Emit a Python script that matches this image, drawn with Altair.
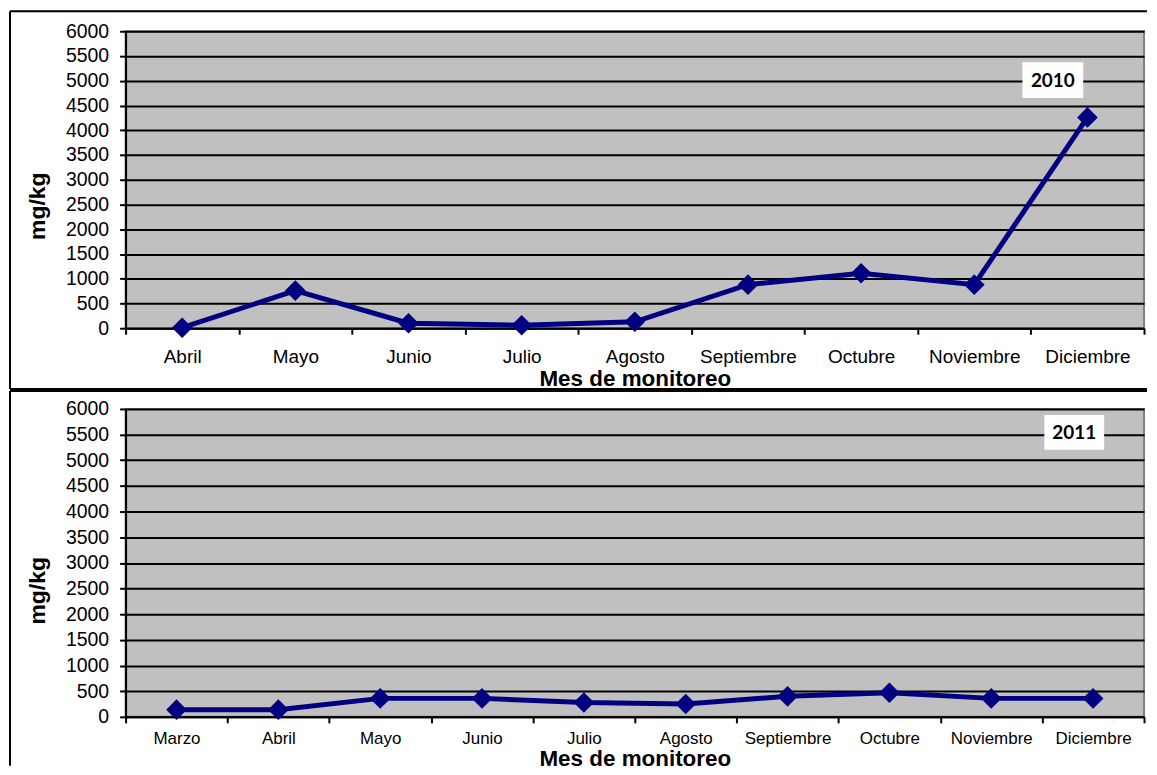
import altair as alt
import pandas as pd

# ---- data ----
months_2010 = ["Abril", "Mayo", "Junio", "Julio", "Agosto", "Septiembre",
               "Octubre", "Noviembre", "Diciembre"]
values_2010 = [10, 760, 100, 60, 130, 880, 1110, 880, 4260]

months_2011 = ["Marzo", "Abril", "Mayo", "Junio", "Julio", "Agosto",
               "Septiembre", "Octubre", "Noviembre", "Diciembre"]
values_2011 = [140, 140, 360, 360, 280, 250, 400, 470, 360, 360]

y_ticks = list(range(0, 6001, 500))
year_labels = ["2010", "2011"]
y_title = "mg/kg"
x_title = "Mes de monitoreo"

FONT = "Liberation Sans"
NAVY = "#000080"
W = 1022


def panel(months, values, year, height, x_lab_size, x_lab_pad, x_title_y,
          y_title_y, box, frame_top, frame_bottom):
    df = pd.DataFrame({"Mes": months, "mgkg": values})
    x = alt.X(
        "Mes:N", sort=months, bandPosition=0.5,
        scale=alt.Scale(type="band", paddingInner=0, paddingOuter=0),
        axis=alt.Axis(
            title=x_title, titleFontSize=22.5, titleFontWeight="bold",
            titleFont=FONT, titleY=x_title_y, titleBaseline="alphabetic",
            titleColor="black", labelAngle=0, labelFontSize=x_lab_size,
            labelFont=FONT, labelPadding=x_lab_pad, labelColor="black",
            tickBand="extent", tickSize=6, tickColor="black", tickWidth=2,
            domainColor="black", domainWidth=2, grid=False),
    )
    y = alt.Y(
        "mgkg:Q", scale=alt.Scale(domain=[0, 6000], nice=False),
        axis=alt.Axis(
            values=y_ticks, format="d", title=y_title, titleFontSize=23,
            titleFont=FONT, titleFontWeight="bold", titleColor="black",
            titleAngle=270, titleX=-88, titleY=y_title_y, titleAlign="center",
            titleBaseline="middle", labelFontSize=19.5, labelFont=FONT,
            labelPadding=11, labelColor="black", labelOverlap=False,
            tickSize=6, tickColor="black", tickWidth=2, domainColor="black",
            domainWidth=2, grid=True, gridColor="black", gridWidth=2,
            gridOpacity=1),
    )
    line = alt.Chart(df).mark_line(
        color=NAVY, strokeWidth=5,
        point=alt.OverlayMarkDef(shape="diamond", size=430, filled=True,
                                 color=NAVY, opacity=1),
    ).encode(x=x, y=y)

    one = pd.DataFrame({"label": [year]})
    bx0, bx1, by0, by1 = box
    rect = alt.Chart(one).mark_rect(color="white", opacity=1).encode(
        x=alt.value(bx0), x2=alt.value(bx1),
        y=alt.value(by0), y2=alt.value(by1))
    txt = alt.Chart(one).mark_text(
        font="Lato", fontWeight="bold", fontSize=19, color="black",
        align="center", baseline="middle",
    ).encode(text="label:N", x=alt.value((bx0 + bx1) / 2),
             y=alt.value((by0 + by1) / 2 + 1))

    frame = []
    frame.append(alt.Chart(one).mark_rule(color="black", strokeWidth=2).encode(
        x=alt.value(-116), x2=alt.value(W + 3), y=alt.value(frame_top)))
    frame.append(alt.Chart(one).mark_rule(color="black", strokeWidth=2).encode(
        x=alt.value(-116), y=alt.value(frame_top), y2=alt.value(frame_bottom)))
    if year == "2010":
        frame.append(alt.Chart(one).mark_rule(color="black", strokeWidth=2).encode(
            x=alt.value(-116), x2=alt.value(W + 3), y=alt.value(frame_bottom)))

    return alt.layer(*frame, line, rect, txt).properties(width=W, height=height)


top = panel(months_2010, values_2010, year_labels[0], 298, 19, 13, 57, 175,
            (900, 961, 31, 67), -20, 359)
bottom = panel(months_2011, values_2011, year_labels[1], 309, 17, 8, 48.5, 182,
               (922, 982, 6, 41), -18, 358)

chart = alt.vconcat(top, bottom, spacing=81, bounds="flush").properties(
    padding=0, background="white"
).configure_view(
    fill="#C0C0C0", stroke="#808080", strokeWidth=2
)

chart.save("out.html", embed_options={"renderer": "svg", "actions": False})
